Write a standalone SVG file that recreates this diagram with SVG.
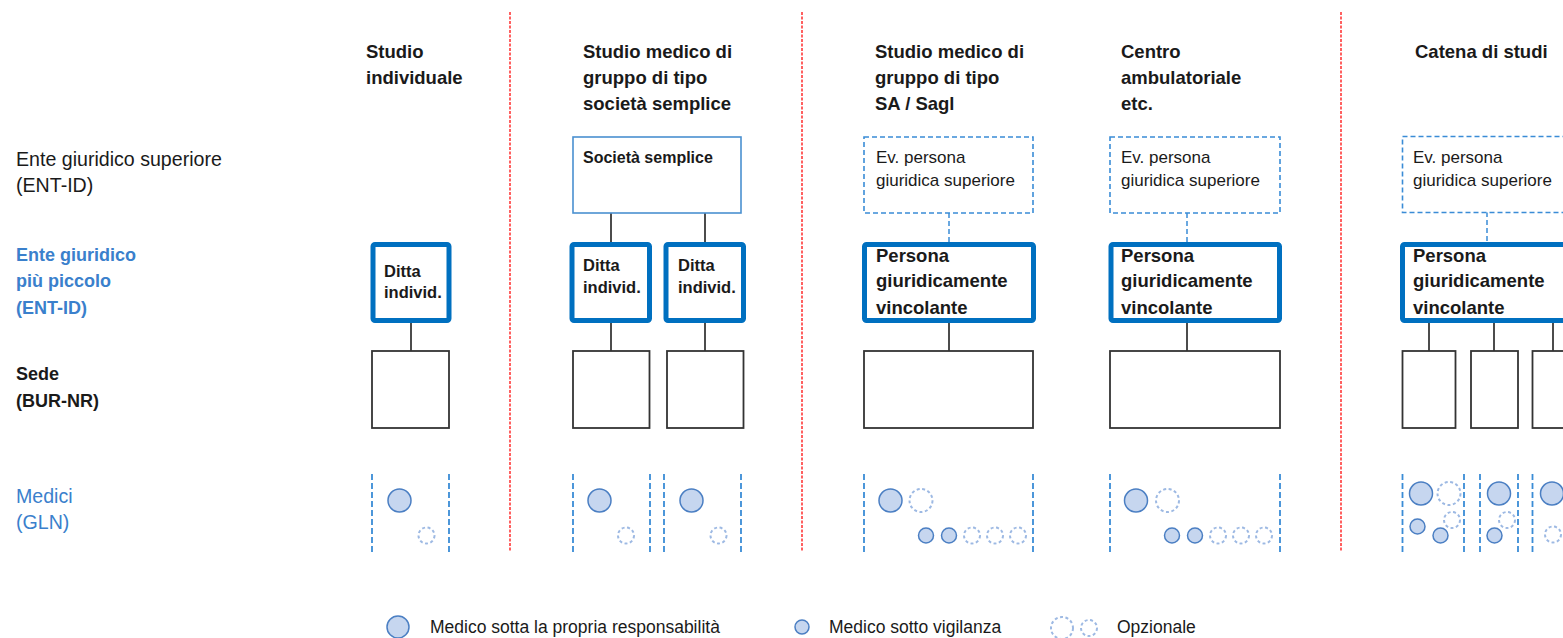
<svg xmlns="http://www.w3.org/2000/svg" width="1563" height="638" viewBox="0 0 1563 638">
<style>
text{font-family:"Liberation Sans",Arial,sans-serif;fill:#1a1a1a}
.hd{font-size:18.5px;font-weight:bold}
.lb{font-size:19.6px}
.lbb{font-size:18px;font-weight:bold}
.blue{fill:#3a80cc}
.dit{font-size:16.5px;font-weight:bold}
.per{font-size:18.5px;font-weight:bold}
.ev{font-size:17px}
.leg{font-size:17.5px}
.thick{fill:#fff;stroke:#0070c0;stroke-width:5}
.sede{fill:#fff;stroke:#333;stroke-width:1.8}
.evbox{fill:#fff;stroke:#3a8cd6;stroke-width:1.6;stroke-dasharray:5 3}
.soc{fill:#fff;stroke:#4a90d0;stroke-width:1.6}
.con{stroke:#111;stroke-width:1.5;fill:none}
.cond{stroke:#3a8cd6;stroke-width:1.5;fill:none;stroke-dasharray:5 3}
.sep{stroke:#ff2d2d;stroke-width:1.5;stroke-dasharray:3 1.5;fill:none}
.pl{stroke:#3a8cd6;stroke-width:1.8;stroke-dasharray:6 3;fill:none}
.cb{fill:#c6d6ef;stroke:#4b7fc3;stroke-width:1.5}
.cd{fill:none;stroke:#9db9e3;stroke-width:2;stroke-dasharray:3 2.5}
</style>

<g id="separators">
<line class="sep" x1="510" y1="12" x2="510" y2="551"/>
<line class="sep" x1="802" y1="12" x2="802" y2="551"/>
<line class="sep" x1="1341" y1="12" x2="1341" y2="551"/>
</g>

<g id="row-labels">
<text class="lb" x="16" y="166">Ente giuridico superiore</text>
<text class="lb" x="16" y="192">(ENT-ID)</text>
<text class="lbb blue" x="16" y="261">Ente giuridico</text>
<text class="lbb blue" x="16" y="287">più piccolo</text>
<text class="lbb blue" x="16" y="314">(ENT-ID)</text>
<text class="lbb" x="16" y="380">Sede</text>
<text class="lbb" x="16" y="407">(BUR-NR)</text>
<text class="lb blue" x="16" y="503">Medici</text>
<text class="lb blue" x="16" y="529">(GLN)</text>
</g>

<g id="headers">
<text class="hd" x="366" y="58">Studio</text>
<text class="hd" x="366" y="84">individuale</text>
<text class="hd" x="583" y="58">Studio medico di</text>
<text class="hd" x="583" y="84">gruppo di tipo</text>
<text class="hd" x="583" y="110">società semplice</text>
<text class="hd" x="875" y="58">Studio medico di</text>
<text class="hd" x="875" y="84">gruppo di tipo</text>
<text class="hd" x="875" y="110">SA / Sagl</text>
<text class="hd" x="1121" y="58">Centro</text>
<text class="hd" x="1121" y="84">ambulatoriale</text>
<text class="hd" x="1121" y="110">etc.</text>
<text class="hd" x="1415" y="58">Catena di studi</text>
</g>

<g id="connectors">
<line class="con" x1="411" y1="322" x2="411" y2="351"/>
<line class="con" x1="611" y1="213" x2="611" y2="242"/>
<line class="con" x1="705" y1="213" x2="705" y2="242"/>
<line class="con" x1="611" y1="322" x2="611" y2="351"/>
<line class="con" x1="705" y1="322" x2="705" y2="351"/>
<line class="cond" x1="949" y1="213" x2="949" y2="242"/>
<line class="con" x1="949" y1="322" x2="949" y2="351"/>
<line class="cond" x1="1187" y1="213" x2="1187" y2="242"/>
<line class="con" x1="1187" y1="322" x2="1187" y2="351"/>
<line class="cond" x1="1487" y1="212" x2="1487" y2="242"/>
<line class="con" x1="1429" y1="322" x2="1429" y2="351"/>
<line class="con" x1="1494" y1="322" x2="1494" y2="351"/>
<line class="con" x1="1553" y1="322" x2="1553" y2="351"/>
</g>

<!-- Column 1 -->
<g id="ditta-1">
<rect class="thick" x="373" y="244.5" width="76" height="76" rx="2"/>
<text class="dit" x="384" y="277">Ditta</text>
<text class="dit" x="384" y="298">individ.</text>
</g>
<g id="sede-1"><rect class="sede" x="372" y="351" width="77" height="77"/></g>
<g id="medici-1">
<line class="pl" x1="372" y1="474" x2="372" y2="552"/>
<line class="pl" x1="449" y1="474" x2="449" y2="552"/>
<circle class="cb" cx="399.5" cy="500.5" r="11.5"/>
<circle class="cd" cx="426.5" cy="535.5" r="8"/>
</g>

<!-- Column 2 -->
<g id="societa-semplice">
<rect class="soc" x="573" y="137" width="168" height="76"/>
<text class="dit" x="583" y="163" style="font-size:16px">Società semplice</text>
</g>
<g id="ditta-2a">
<rect class="thick" x="572" y="244.5" width="77.5" height="76" rx="2"/>
<text class="dit" x="583" y="271">Ditta</text>
<text class="dit" x="583" y="293">individ.</text>
</g>
<g id="ditta-2b">
<rect class="thick" x="666" y="244.5" width="77.5" height="76" rx="2"/>
<text class="dit" x="678" y="271">Ditta</text>
<text class="dit" x="678" y="293">individ.</text>
</g>
<g id="sede-2a"><rect class="sede" x="573" y="351" width="76.5" height="77"/></g>
<g id="sede-2b"><rect class="sede" x="667" y="351" width="76.5" height="77"/></g>
<g id="medici-2a">
<line class="pl" x1="573" y1="474" x2="573" y2="552"/>
<line class="pl" x1="650" y1="474" x2="650" y2="552"/>
<circle class="cb" cx="599.5" cy="500.5" r="11.5"/>
<circle class="cd" cx="626" cy="535.5" r="8"/>
</g>
<g id="medici-2b">
<line class="pl" x1="664" y1="474" x2="664" y2="552"/>
<line class="pl" x1="741" y1="474" x2="741" y2="552"/>
<circle class="cb" cx="691.5" cy="500.5" r="11.5"/>
<circle class="cd" cx="718.5" cy="535.5" r="8"/>
</g>

<!-- Column 3 -->
<g id="ev-3">
<rect class="evbox" x="864" y="137" width="169" height="76"/>
<text class="ev" x="876" y="163">Ev. persona</text>
<text class="ev" x="876" y="186">giuridica superiore</text>
</g>
<g id="persona-3">
<rect class="thick" x="864.5" y="244.5" width="169" height="76" rx="2"/>
<text class="per" x="876" y="262">Persona</text>
<text class="per" x="876" y="287">giuridicamente</text>
<text class="per" x="876" y="314">vincolante</text>
</g>
<g id="sede-3"><rect class="sede" x="864" y="351" width="169" height="77"/></g>
<g id="medici-3">
<line class="pl" x1="864" y1="474" x2="864" y2="552"/>
<line class="pl" x1="1033" y1="474" x2="1033" y2="552"/>
<circle class="cb" cx="890.5" cy="500.5" r="11.5"/>
<circle class="cd" cx="921" cy="500.5" r="11.5"/>
<circle class="cb" cx="926" cy="535.5" r="7.5"/>
<circle class="cb" cx="949" cy="535.5" r="7.5"/>
<circle class="cd" cx="972" cy="535.5" r="8"/>
<circle class="cd" cx="995" cy="535.5" r="8"/>
<circle class="cd" cx="1018" cy="535.5" r="8"/>
</g>

<!-- Column 4 -->
<g id="ev-4">
<rect class="evbox" x="1110" y="137" width="170" height="76"/>
<text class="ev" x="1121" y="163">Ev. persona</text>
<text class="ev" x="1121" y="186">giuridica superiore</text>
</g>
<g id="persona-4">
<rect class="thick" x="1111" y="244.5" width="168.5" height="76" rx="2"/>
<text class="per" x="1121" y="262">Persona</text>
<text class="per" x="1121" y="287">giuridicamente</text>
<text class="per" x="1121" y="314">vincolante</text>
</g>
<g id="sede-4"><rect class="sede" x="1110" y="351" width="170" height="77"/></g>
<g id="medici-4">
<line class="pl" x1="1110" y1="474" x2="1110" y2="552"/>
<line class="pl" x1="1280" y1="474" x2="1280" y2="552"/>
<circle class="cb" cx="1136" cy="500.5" r="11.5"/>
<circle class="cd" cx="1167.5" cy="500.5" r="11.5"/>
<circle class="cb" cx="1172" cy="535.5" r="7.5"/>
<circle class="cb" cx="1195" cy="535.5" r="7.5"/>
<circle class="cd" cx="1218" cy="535.5" r="8"/>
<circle class="cd" cx="1241" cy="535.5" r="8"/>
<circle class="cd" cx="1264" cy="535.5" r="8"/>
</g>

<!-- Column 5 -->
<g id="ev-5">
<rect class="evbox" x="1402.5" y="136.5" width="180" height="76"/>
<text class="ev" x="1413" y="163">Ev. persona</text>
<text class="ev" x="1413" y="186">giuridica superiore</text>
</g>
<g id="persona-5">
<rect class="thick" x="1402.5" y="244.5" width="180" height="76" rx="2"/>
<text class="per" x="1413" y="262">Persona</text>
<text class="per" x="1413" y="287">giuridicamente</text>
<text class="per" x="1413" y="314">vincolante</text>
</g>
<g id="sede-5a"><rect class="sede" x="1402.5" y="351" width="53" height="77"/></g>
<g id="sede-5b"><rect class="sede" x="1471" y="351" width="47" height="77"/></g>
<g id="sede-5c"><rect class="sede" x="1532.5" y="351" width="60" height="77"/></g>
<g id="medici-5a">
<line class="pl" x1="1402.5" y1="474" x2="1402.5" y2="552"/>
<line class="pl" x1="1464" y1="474" x2="1464" y2="552"/>
<circle class="cb" cx="1421" cy="493.5" r="11.5"/>
<circle class="cd" cx="1449" cy="493.5" r="11.5"/>
<circle class="cb" cx="1417.5" cy="526.5" r="7.5"/>
<circle class="cd" cx="1452" cy="520" r="8"/>
<circle class="cb" cx="1440.5" cy="535.5" r="7.5"/>
</g>
<g id="medici-5b">
<line class="pl" x1="1480" y1="474" x2="1480" y2="552"/>
<line class="pl" x1="1518" y1="474" x2="1518" y2="552"/>
<circle class="cb" cx="1499" cy="493.5" r="11.5"/>
<circle class="cd" cx="1507" cy="520" r="8"/>
<circle class="cb" cx="1494.5" cy="535.5" r="7.5"/>
</g>
<g id="medici-5c">
<line class="pl" x1="1532.5" y1="474" x2="1532.5" y2="552"/>
<circle class="cb" cx="1552" cy="493.5" r="11.5"/>
<circle class="cd" cx="1553" cy="534.5" r="8"/>
</g>

<g id="legend">
<circle class="cb" cx="398" cy="627" r="11"/>
<text class="leg" x="430" y="633">Medico sotta la propria responsabilità</text>
<circle class="cb" cx="802" cy="627" r="7"/>
<text class="leg" x="829" y="633">Medico sotto vigilanza</text>
<circle class="cd" cx="1062" cy="628" r="11"/>
<circle class="cd" cx="1089" cy="628" r="8"/>
<text class="leg" x="1117" y="633">Opzionale</text>
</g>
</svg>
